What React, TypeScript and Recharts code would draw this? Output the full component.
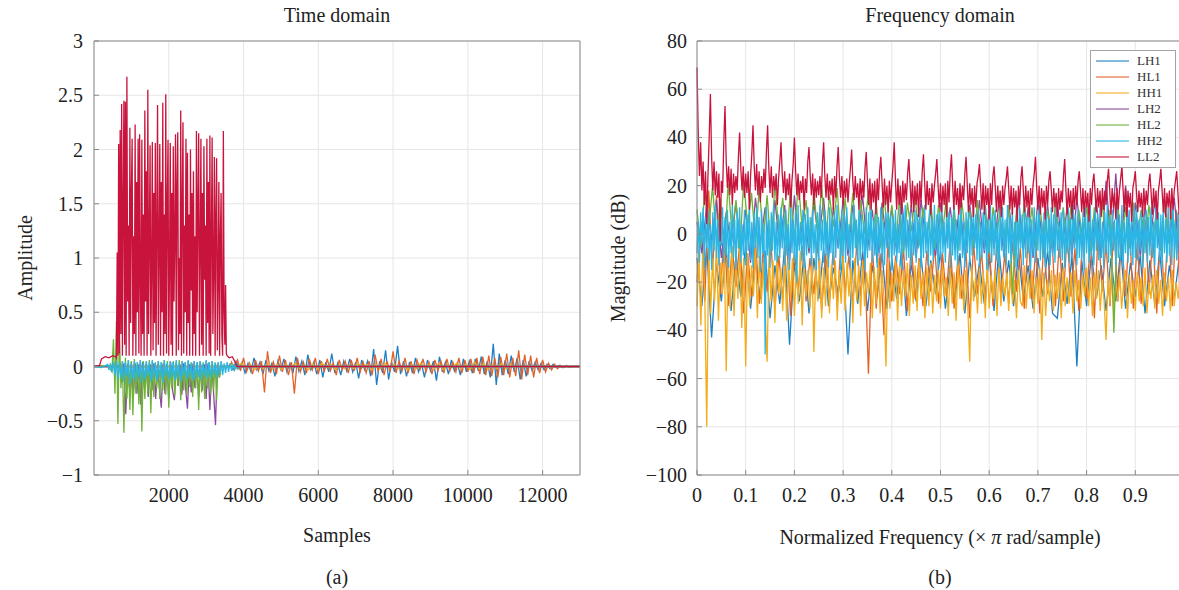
import { LineChart, Line, XAxis, YAxis, CartesianGrid, Legend } from 'recharts';

// series order follows the original plot (last one is drawn on top)
const SERIES = ['LH1', 'HL1', 'HH1', 'LH2', 'HL2', 'HH2', 'LL2'];
const COLORS: Record<string, string> = {
  LH1: '#1f7fc4',
  HL1: '#e2622a',
  HH1: '#f2ac1c',
  LH2: '#8c4a9c',
  HL2: '#6fb23a',
  HH2: '#29b6e6',
  LL2: '#c8143c',
};

const FONT = '"Liberation Serif", "DejaVu Serif", serif';
const GRID = '#e6e6e6';
const AXIS = '#8a8a8a';

// ---------- time domain (samples) ----------
const timeXTicks = [2000, 4000, 6000, 8000, 10000, 12000];
const timeYTicks = [-1, -0.5, 0, 0.5, 1, 1.5, 2, 2.5, 3];

const ll2TimeLead = [[0, 0], [150, 0.01], [200, 0.07], [300, 0.09], [400, 0.08], [500, 0.1], [580, 0.09]];
// step 20 samples from 600
const ll2TimeBurst = [
  0.08, 1.05, 0.1, 2.05, 0.12, 2.18, 0.3, 2.42, 0.1, 1.5,
  2.45, 0.2, 2.44, 0.1, 2.67, 0.6, 1.3, 0.1, 2.2, 0.4,
  1.6, 2.1, 0.1, 1.2, 0.3, 2.23, 0.1, 1.7, 0.5, 2.1,
  0.12, 2.14, 0.8, 0.1, 2.09, 0.3, 1.4, 0.1, 2.36, 0.6,
  1.8, 0.1, 2.55, 0.3, 1.2, 2.04, 0.1, 0.9, 2.07, 0.15,
  1.6, 0.4, 2.06, 0.1, 1.3, 2.41, 0.2, 1.1, 2.05, 0.1,
  1.7, 0.5, 2.43, 0.1, 1.4, 0.3, 2.51, 0.12, 1.5, 2.09,
  0.1, 0.9, 2.06, 0.2, 1.6, 0.1, 2.03, 0.6, 1.2, 2.14,
  0.1, 1.7, 2.16, 0.15, 1.0, 0.3, 2.36, 0.1, 1.5, 2.25,
  0.12, 1.3, 0.5, 2.1, 0.1, 1.97, 0.4, 1.4, 0.1, 2.0,
  0.7, 1.6, 0.1, 1.8, 0.3, 1.2, 0.1, 2.17, 0.5, 1.5,
  2.15, 0.1, 1.1, 2.1, 0.2, 1.6, 0.1, 2.03, 0.8, 1.3,
  0.1, 2.1, 0.4, 1.7, 0.12, 2.13, 0.1, 1.2, 2.11, 0.3,
  0.9, 1.93, 0.1, 1.4, 1.92, 0.15, 0.8, 1.7, 0.1, 1.2,
  1.6, 0.3, 0.1, 2.17, 0.5, 0.2, 0.75, 0.12,
];
const ll2TimeTail = [[3560, 0.1], [3620, 0.08], [3700, 0.09], [3760, 0.05], [3820, 0], [13000, 0]];

const hh2TimeLead = [[0, 0], [200, -0.01], [320, 0.01]];
const hh2TimeBurst = [
  0.02, -0.03, 0.03, -0.05, 0.04, -0.08, 0.05, -0.12, 0.03, -0.1,
  0.05, -0.14, 0.04, -0.09, 0.06, -0.16, 0.03, -0.11, 0.05, -0.13,
  0.04, -0.1, 0.06, -0.15, 0.03, -0.12, 0.05, -0.09, 0.04, -0.14,
  0.06, -0.11, 0.03, -0.13, 0.05, -0.1, 0.04, -0.15, 0.06, -0.09,
  0.03, -0.12, 0.05, -0.1, 0.04, -0.13, 0.06, -0.11, 0.03, -0.14,
  0.05, -0.09, 0.04, -0.12, 0.06, -0.1, 0.03, -0.13, 0.05, -0.11,
  0.04, -0.1, 0.05, -0.12, 0.03, -0.09, 0.06, -0.11, 0.04, -0.1,
  0.05, -0.08, 0.03, -0.1, 0.04, -0.07, 0.05, -0.08, 0.03, -0.06,
  0.04, -0.05, 0.03, -0.04, 0.02, -0.03, 0.02, -0.02, 0.01,
];
const hh2TimeTail = [[3920, 0], [13000, 0]];

const hl2TimeLead = [[0, 0], [400, 0.01], [440, -0.03]];
const hl2TimeBurst = [
  -0.05, 0.25, -0.25, 0.42, -0.53, 0.3, -0.2, 0.05, -0.61, 0.08,
  -0.3, 0.06, -0.4, 0.05, -0.45, 0.07, -0.25, 0.04, -0.35, 0.06,
  -0.6, 0.05, -0.3, 0.04, -0.25, 0.06, -0.43, 0.05, -0.28, 0.04,
  -0.2, 0.05, -0.3, 0.04, -0.22, 0.06, -0.26, 0.05, -0.38, 0.04,
  -0.2, 0.05, -0.27, 0.04, -0.18, 0.06, -0.31, 0.05, -0.22, 0.04,
  -0.25, 0.05, -0.19, 0.04, -0.28, 0.05, -0.2, 0.04, -0.4, 0.05,
  -0.24, 0.04, -0.3, 0.05, -0.2, 0.04, -0.26, 0.05, -0.22, 0.04,
  -0.31, 0.03, -0.1, 0.01,
];
const hl2TimeTail = [[3440, 0], [13000, 0]];

const lh2TimeLead = [[0, 0], [650, 0]];
const lh2TimeBurst = [
  0.02, -0.15, 0.03, -0.44, 0.02, -0.2, 0.04, -0.3, 0.03, -0.25,
  0.02, -0.35, 0.04, -0.2, 0.03, -0.28, 0.02, -0.22, 0.03, -0.3,
  0.02, -0.2, -0.38, 0.03, -0.25, 0.02, -0.3, 0.04, -0.22, -0.31,
  0.03, -0.18, 0.02, -0.26, 0.03, -0.2, -0.39, 0.02, -0.24, 0.03,
  -0.2, 0.02, -0.28, 0.03, -0.22, 0.02, -0.3, 0.03, -0.4, 0.02,
  -0.25, -0.54, 0.02, -0.1,
];
const lh2TimeTail = [[3400, 0], [13000, 0]];

const lh1TimeLead = [[0, 0], [3600, 0]];
const lh1TimeBurst = [
  0.02, -0.03, 0.05, -0.02, 0.04, -0.06, 0.03, -0.05, 0.08, -0.03,
  0.04, -0.07, 0.06, -0.04, 0.03, -0.09, 0.05, -0.03, 0.07, -0.05,
  0.03, -0.06, 0.09, -0.04, 0.05, -0.08, 0.11, -0.03, 0.04, -0.07,
  0.06, -0.1, 0.04, -0.05, 0.12, -0.06, 0.03, -0.08, 0.05, -0.04,
  0.07, -0.05, 0.04, -0.11, 0.06, -0.03, 0.05, -0.09, 0.16, -0.17,
  0.05, -0.06, 0.15, -0.12, 0.04, -0.05, 0.19, -0.07, 0.05, -0.09,
  0.04, -0.06, 0.08, -0.05, 0.03, -0.1, 0.06, -0.04, 0.05, -0.13,
  0.09, -0.05, 0.04, -0.07, 0.06, -0.04, 0.03, -0.08, 0.07, -0.05,
  0.05, -0.06, 0.07, -0.04, 0.09, -0.07, 0.05, -0.1, 0.21, -0.17,
  0.12, -0.08, 0.06, -0.07, 0.1, -0.05, 0.08, -0.12, 0.06, -0.09,
  0.05, -0.04, 0.04, -0.03, 0.03, -0.03, 0.02, -0.02, 0.02, -0.01,
  0.01, -0.01, 0.0,
];
const lh1TimeTail = [[12700, 0], [13000, 0]];

const hl1TimeLead = [[0, 0], [3640, 0]];
const hl1TimeBurst = [
  0.04, -0.03, 0.06, -0.04, 0.08, -0.05, 0.03, -0.07, 0.06, -0.04,
  0.05, -0.24, 0.14, -0.06, 0.04, -0.07, 0.1, -0.05, 0.06, -0.08,
  0.04, -0.25, 0.08, -0.05, 0.04, -0.06, 0.07, -0.03, 0.08, -0.07,
  0.05, -0.05, 0.07, -0.04, 0.03, -0.08, 0.06, -0.03, 0.05, -0.06,
  0.06, -0.04, 0.08, -0.05, 0.04, -0.06, 0.05, -0.08, 0.11, -0.05,
  0.07, -0.08, 0.05, -0.05, 0.14, -0.06, 0.05, -0.04, 0.08, -0.06,
  0.05, -0.07, 0.06, -0.03, 0.07, -0.05, 0.04, -0.07, 0.06, -0.04,
  0.05, -0.06, 0.07, -0.04, 0.04, -0.05, 0.08, -0.06, 0.06, -0.05,
  0.07, -0.06, 0.08, -0.07, 0.09, -0.08, 0.1, -0.09, 0.08, -0.1,
  0.09, -0.08, 0.12, -0.1, 0.08, -0.09, 0.15, -0.12, 0.11, -0.08,
  0.1, -0.1, 0.08, -0.06, 0.06, -0.05, 0.03, -0.03, 0.02, -0.02,
  0.01, -0.01, 0.01, -0.01, 0.0,
];
const hl1TimeTail = [[12900, 0], [13000, 0]];

const hh1TimeLead = [[0, 0], [3600, 0]];
const hh1TimeBurst = [
  0.02, -0.02, 0.03, -0.01, 0.02, -0.03, 0.01, -0.02, 0.03, -0.02,
  0.02, -0.03, 0.02, -0.01, 0.03, -0.02, 0.01, -0.03, 0.02, -0.02,
  0.03, -0.01, 0.02, -0.03, 0.02, -0.02, 0.01, -0.02, 0.03, -0.01,
  0.02, -0.03, 0.02, -0.02, 0.03, -0.01, 0.02, -0.02, 0.01, -0.03,
  0.02, -0.02, 0.03, -0.01, 0.02, -0.02, 0.03, -0.03, 0.02, -0.01,
  0.03, -0.02, 0.02, -0.03, 0.04, -0.02, 0.03, -0.03, 0.02, -0.02,
  0.03, -0.02, 0.02, -0.01, 0.01, -0.01, 0.01, -0.01, 0.0, 0.0,
  0.01, -0.01, 0.0, 0.0, 0.0, 0.0,
];
const hh1TimeTail = [[12800, 0], [13000, 0]];

// ---------- frequency domain (normalized frequency) ----------
const freqXTicks = [0, 0.1, 0.2, 0.3, 0.4, 0.5, 0.6, 0.7, 0.8, 0.9];
const freqYTicks = [-100, -80, -60, -40, -20, 0, 20, 40, 60, 80];

// step 0.0025, one row per ripple period (starting at its peak)
const ll2Freq = [
  69, 42, 24, 38, 18, 30, 12, 26, 4, 24, 40,
  58, 32, 18, 30, 16, 26, 15, 25, -3, 22, 17, 38,
  53, 30, 19, 28, 16, 27, 12, 25, 17, 24, 18, 32,
  42, 27, 18, 28, 15, 25, 17, 26, 10, 24, 33,
  45, 28, 18, 29, 16, 26, 13, 24, 17, 27, 19, 34,
  45, 27, 17, 28, 15, 24, 18, 25, 12, 23, 30,
  38, 25, 17, 26, 14, 23, 16, 25, 11, 22, 29,
  40, 26, 16, 25, 14, 22, 17, 24, 10, 23, 17, 30,
  36, 24, 16, 25, 12, 23, 15, 22, 16, 24, 15, 29,
  38, 24, 15, 25, 14, 22, 16, 23, 10, 24, 15, 28,
  36, 23, 15, 24, 12, 22, 15, 23, 13, 21, 27,
  35, 22, 14, 24, 15, 21, 10, 23, 14, 22, 15, 27,
  34, 22, 12, 23, 10, 21, 13, 22, 8, 23, 14, 26,
  32, 21, 11, 23, 12, 20, 9, 22, 13, 21, 28,
  38, 22, 10, 23, 12, 20, 8, 22, 13, 21, 14, 25,
  31, 21, 11, 22, 9, 20, 12, 21, 7, 22, 13, 26,
  33, 21, 10, 22, 12, 19, 8, 21, 13, 20, 25,
  31, 20, 11, 21, 9, 20, 12, 21, 7, 22, 13, 26,
  33, 20, 10, 22, 12, 19, 8, 21, 11, 20, 14, 25,
  32, 20, 9, 21, 12, 19, 7, 20, 11, 21, 24,
  29, 19, 10, 21, 8, 20, 12, 19, 6, 21, 12, 24,
  28, 19, 9, 20, 11, 18, 7, 20, 12, 19, 23,
  28, 19, 10, 20, 8, 19, 11, 18, 5, 20, 12, 23,
  28, 18, 9, 20, 11, 18, 7, 19, 12, 20, 25,
  32, 19, 10, 20, 8, 19, 11, 18, 6, 20, 12, 22,
  26, 18, 9, 19, 11, 17, 7, 19, 10, 18, 13, 24,
  31, 18, 8, 19, 11, 18, 6, 19, 10, 20, 12, 22,
  26, 18, 9, 19, 7, 18, 11, 17, 5, 19, 12, 21,
  25, 17, 9, 19, 11, 18, 7, 19, 10, 18, 12, 22,
  27, 18, 8, 19, 11, 17, 6, 19, 10, 18, 23,
  28, 18, 9, 19, 7, 18, 11, 17, 5, 19, 22,
  26, 17, 9, 18, 11, 17, 7, 19, 10, 18, 12, 21,
  25, 17, 8, 19, 11, 18, 6, 18, 22,
  27, 18, 9, 19, 7, 17, 11, 18, 6, 19, 10, 18, 22,
  26, 17, 8, 19, 11, 18, 20,
];

// step 0.0025
const hh2Freq = [
  -8, 5, -12, 9, -4, 11, -14, 7, -6, 10,
  -11, 4, -15, 9, -7, 12, -10, 6, -13, 8,
  -5, 11, -12, 7, -9, 10, -14, 5, -8, 12,
  -10, 6, -15, 9, -6, 11, -12, 4, -9, 10,
  -13, 8, -7, 12, -11, 5, -14, 9, -6, 11,
  -10, 7, -16, 10, -8, 4, -50, 11, -9, 6,
  -14, 9, -7, 12, -11, 5, -12, 8, -10, 11,
  -6, 7, -13, 10, -9, 4, -15, 11, -8, 6,
  -12, 9, -20, 12, -7, 5, -11, 10, -14, 8,
  -9, 11, -6, 7, -13, 10, -8, 4, -15, 9,
  -11, 12, -7, 6, -12, 10, -9, 5, -14, 11,
  -8, 7, -13, 9, -10, 12, -6, 5, -15, 10,
  -9, 8, -12, 11, -7, 4, -14, 9, -10, 12,
  -6, 6, -13, 10, -11, 8, -8, 5, -15, 11,
  -10, 9, -7, 12, -12, 6, -9, 10, -14, 7,
  -8, 11, -11, 5, -13, 9, -6, 12, -10, 8,
  -15, 7, -9, 10, -12, 4, -8, 11, -14, 9,
  -7, 12, -11, 6, -10, 9, -13, 5, -9, 10,
  -12, 8, -6, 11, -14, 7, -10, 12, -8, 5,
  -13, 10, -9, 6, -11, 12, -7, 8, -15, 9,
  -10, 11, -8, 5, -12, 10, -6, 9, -14, 7,
  -9, 12, -11, 6, -13, 8, -7, 10, -10, 5,
  -14, 9, -8, 11, -12, 7, -9, 12, -6, 8,
  -11, 10, -13, 5, -10, 9, -7, 11, -15, 6,
  -8, 12, -12, 8, -9, 10, -11, 5, -14, 9,
  -7, 11, -10, 6, -13, 12, -8, 7, -12, 10,
  -9, 5, -14, 9, -11, 11, -6, 8, -13, 12,
  -10, 7, -8, 10, -15, 6, -9, 11, -12, 8,
  -7, 12, -11, 5, -10, 9, -14, 10, -8, 6,
  -13, 11, -9, 8, -12, 12, -7, 5, -10, 9,
  -11, 10, -14, 6, -8, 11, -12, 7, -9, 12,
  -6, 8, -13, 10, -10, 5, -11, 9, -15, 11,
  -8, 7, -12, 12, -9, 6, -13, 10, -7, 8,
  -11, 11, -10, 5, -14, 9, -8, 12, -12, 7,
  -9, 10, -7, 6, -13, 11, -10, 8, -11, 12,
  -14, 5, -8, 9, -12, 10, -9, 7, -13, 11,
  -10, 12, -11, 6, -7, 9, -14, 8, -8, 10,
  -12, 7, -9, 11, -10, 5, -13, 12, -6, 9,
  -11, 8, -14, 10, -8, 6, -12, 11, -9, 7,
  -13, 12, -10, 5, -11, 9, -7, 10, -12, 8,
  -9,
];

// step 0.004
const hh1Freq = [
  -30, -8, -38, -4, -26, -80, -6, -33, -10, -28,
  -3, -36, -12, -25, -7, -57, -9, -31, -5, -34,
  -11, -27, -6, -39, -10, -55, -8, -30, -13, -26,
  -5, -35, -9, -29, -12, -33, -53, -7, -28, -11,
  -37, -8, -25, -14, -32, -9, -36, -12, -27, -10,
  -34, -13, -29, -7, -38, -11, -26, -15, -31, -9,
  -49, -12, -28, -10, -35, -14, -30, -8, -33, -13,
  -27, -11, -36, -15, -29, -9, -32, -12, -26, -14,
  -37, -10, -28, -13, -34, -11, -30, -16, -25, -12,
  -35, -14, -29, -10, -33, -15, -27, -55, -12, -31,
  -16, -28, -11, -36, -13, -30, -15, -26, -12, -34,
  -17, -29, -13, -32, -11, -27, -16, -35, -14, -30,
  -12, -33, -17, -28, -15, -31, -13, -26, -18, -34,
  -14, -29, -16, -36, -12, -27, -17, -32, -15, -30,
  -53, -13, -28, -18, -33, -14, -29, -16, -35, -12,
  -31, -17, -27, -15, -34, -13, -30, -18, -26, -16,
  -32, -14, -29, -19, -35, -15, -28, -30, -13, -31,
  -17, -27, -15, -33, -18, -29, -14, -44, -16, -34,
  -19, -28, -15, -32, -17, -27, -16, -35, -14, -30,
  -18, -29, -16, -33, -15, -28, -19, -31, -17, -26,
  -14, -30, -18, -34, -16, -27, -15, -32, -19, -28,
  -44, -17, -29, -14, -33, -18, -28, -16, -31, -20,
  -15, -35, -17, -29, -19, -32, -16, -28, -18, -30,
  -14, -33, -20, -27, -17, -31, -15, -29, -19, -34,
  -16, -28, -18, -32, -15, -30, -20, -27, -17, -33,
  -19,
];

// step 0.008
const hl1Freq = [
  -20, 5, -28, 18, -15, 16, -25, 2, -30, -5,
  -22, -3, -33, -8, -26, -2, -29, -6, -24, -4,
  -31, -9, -27, -1, -34, -7, -23, -5, -28, -10,
  -25, -3, -32, -8, -27, -6, -30, -2, -24, -9,
  -29, -4, -26, -7, -58, -5, -31, -8, -42, -3,
  -28, -9, -25, -6, -32, -4, -27, -10, -30, -7,
  -24, -5, -29, -8, -26, -3, -31, -9, -27, -6,
  -35, -4, -25, -7, -28, -5, -30, -2, -26, -8,
  -29, -3, -24, -6, -31, -1, -27, -5, -33, -4,
  -25, 2, -30, -3, -28, 0, -26, -6, -32, 1,
  -27, -2, -35, 3, -24, -4, -30, 5, -28, -1,
  -26, 4, -31, -3, -29, 6, -25, 0, -33, 3,
  -27, 8, -30, 10, -26, 15,
];

// step 0.01
const lh1Freq = [
  -10, -30, -5, -43, -12, -28, -6, -32, -9, -26,
  -4, -31, -11, -27, -7, -35, -13, -29, -5, -46,
  -12, -28, -8, -33, -10, -27, -6, -30, -14, -25,
  -9, -50, -11, -29, -7, -32, -13, -26, -8, -31,
  -10, -27, -6, -34, -12, -28, -9, -30, -11, -25,
  -7, -31, -13, -27, -8, -33, -10, -26, -12, -29,
  -9, -32, -6, -28, -11, -30, -8, -27, -13, -31,
  -10, -26, -7, -33, -35, -12, -29, -9, -55, -11,
  -30, -8, -27, -13, -32, -10, -28, -6, -31, -12,
  -26, -9, -33, -11, -29, -7, -30, -13, -27, -10,
  -28,
];

// step 0.008
const hl2Freq = [
  10, -5, 18, 2, 20, -3, 15, -8, 21, 0,
  14, -6, 22, 3, 17, -4, 20, -2, 16, -7,
  21, 1, 15, -5, 19, -3, 22, 2, 14, -6,
  18, -1, 20, -4, 16, 3, 19, -7, 15, -2,
  17, -5, 14, 0, 18, -3, 13, -6, 16, -1,
  12, -4, 15, -8, 13, 1, 16, -5, 11, -3,
  14, -6, 12, 0, 15, -4, 11, -7, 13, -2,
  10, -5, 14, -3, 12, -8, 11, 0, 13, -6,
  12, -25, 10, -4, 13, -2, 11, -7, 12, -3,
  10, -5, 13, -1, 11, -6, 12, -4, 10, -2,
  12, -7, 11, -3, 13, -5, 10, -41, 12, -4,
  11, -6, 13, -2, 10, -5, 12, -3, 11, -7,
  13, -4, 10, -2, 12, -5,
];

// step 0.01
const lh2Freq = [
  5, -8, 12, -3, 14, -10, 9, -5, 13, -7,
  10, -12, 15, -4, 11, -9, 14, -6, 12, -11,
  16, -5, 10, -8, 13, -3, 15, -10, 11, -6,
  14, -9, 12, -4, 16, -7, 10, -12, 13, -5,
  11, -8, 15, -6, 12, -10, 14, -3, 10, -9,
  13, -5, 11, -7, 15, -11, 12, -4, 14, -8,
  10, -6, 13, -9, 12, -3, 15, -7, 11, -10,
  14, -5, 12, -8, 13, -6, 11, -9, 15, -4,
  12, -7, 14, -10, 22, -5, 25, -8, 20, -6,
  13, -9, 11, -5, 14, -7, 12, -4, 15, -8,
  11,
];

type Pt = { x: number; y: number };
const pairs = (p: number[][]): Pt[] => p.map(([x, y]) => ({ x, y }));
const seq = (start: number, step: number, values: number[]): Pt[] =>
  values.map((y, i) => ({ x: +(start + i * step).toFixed(4), y }));

const timeData: Record<string, Pt[]> = {
  LH1: [...pairs(lh1TimeLead), ...seq(3640, 80, lh1TimeBurst), ...pairs(lh1TimeTail)],
  HL1: [...pairs(hl1TimeLead), ...seq(3680, 80, hl1TimeBurst), ...pairs(hl1TimeTail)],
  HH1: [...pairs(hh1TimeLead), ...seq(3700, 120, hh1TimeBurst), ...pairs(hh1TimeTail)],
  LH2: [...pairs(lh2TimeLead), ...seq(700, 50, lh2TimeBurst), ...pairs(lh2TimeTail)],
  HL2: [...pairs(hl2TimeLead), ...seq(480, 40, hl2TimeBurst), ...pairs(hl2TimeTail)],
  HH2: [...pairs(hh2TimeLead), ...seq(360, 40, hh2TimeBurst), ...pairs(hh2TimeTail)],
  LL2: [...pairs(ll2TimeLead), ...seq(600, 20, ll2TimeBurst), ...pairs(ll2TimeTail)],
};

const freqData: Record<string, Pt[]> = {
  LH1: seq(0, 0.01, lh1Freq),
  HL1: seq(0, 0.008, hl1Freq),
  HH1: seq(0, 0.004, hh1Freq),
  LH2: seq(0, 0.01, lh2Freq),
  HL2: seq(0, 0.008, hl2Freq),
  HH2: seq(0, 0.0025, hh2Freq),
  LL2: seq(0, 0.0025, ll2Freq),
};

const minus = (v: number) => String(v).replace('-', '\u2212');
const noTick = () => <g />;

// tick labels drawn as plain svg text so the serif face is certain
const XTick = (props: any) => {
  const { x, y, payload } = props;
  return (
    <text x={x} y={y} dy="0.71em" textAnchor="middle" fontFamily={FONT} fontSize={20} fill="#222">
      {minus(payload.value)}
    </text>
  );
};
const YTick = (props: any) => {
  const { x, y, payload } = props;
  return (
    <text x={x} y={y} dy="0.35em" textAnchor="end" fontFamily={FONT} fontSize={20} fill="#222">
      {minus(payload.value)}
    </text>
  );
};

const renderLegend = () => (
  <div
    style={{
      border: '1px solid #a3a3a3',
      background: '#fff',
      padding: '2px 0',
      width: 84,
      fontFamily: FONT,
      fontSize: 13,
      color: '#333',
    }}
  >
    {SERIES.map((name) => (
      <div key={name} style={{ display: 'flex', alignItems: 'center', height: 16 }}>
        <svg width={46} height={16}>
          <line x1={5} x2={38} y1={8} y2={8} stroke={COLORS[name]} strokeOpacity={0.55} strokeWidth={2} />
        </svg>
        <span>{name}</span>
      </div>
    ))}
  </div>
);

function Panel({
  data,
  xDomain,
  xTicks,
  yDomain,
  yTicks,
  margin,
  yTickMargin,
  legend,
}: {
  data: Record<string, Pt[]>;
  xDomain: [number, number];
  xTicks: number[];
  yDomain: [number, number];
  yTicks: number[];
  margin: { top: number; right: number; bottom: number; left: number };
  yTickMargin: number;
  legend?: boolean;
}) {
  return (
    <LineChart width={600} height={590} margin={margin}>
      <CartesianGrid stroke={GRID} />
      <XAxis
        type="number"
        dataKey="x"
        domain={xDomain}
        ticks={xTicks}
        tick={XTick}
        tickSize={-5}
        tickMargin={18}
        height={30}
        stroke={AXIS}
        interval={0}
      />
      <XAxis
        xAxisId="top"
        orientation="top"
        type="number"
        dataKey="x"
        domain={xDomain}
        ticks={xTicks}
        tick={noTick}
        tickSize={-5}
        height={1}
        stroke={AXIS}
        interval={0}
      />
      <YAxis
        type="number"
        domain={yDomain}
        ticks={yTicks}
        tick={YTick}
        tickSize={-5}
        tickMargin={yTickMargin}
        width={60}
        stroke={AXIS}
        interval={0}
      />
      <YAxis
        yAxisId="right"
        orientation="right"
        type="number"
        domain={yDomain}
        ticks={yTicks}
        tick={noTick}
        tickSize={-5}
        width={1}
        stroke={AXIS}
        interval={0}
      />
      {SERIES.map((name) => (
        <Line
          key={name}
          data={data[name]}
          dataKey="y"
          type="linear"
          stroke={COLORS[name]}
          strokeWidth={1.3}
          dot={false}
          activeDot={false}
          isAnimationActive={false}
        />
      ))}
      {legend && (
        <Legend
          layout="horizontal"
          verticalAlign="middle"
          align="center"
          content={renderLegend}
          wrapperStyle={{ position: 'absolute', left: 490, top: 50, width: 'auto', height: 'auto' }}
        />
      )}
    </LineChart>
  );
}

const label = (x: number, y: number, size: number, rotate = false): React.CSSProperties => ({
  position: 'absolute',
  left: x,
  top: y,
  transform: `translate(-50%, -50%)${rotate ? ' rotate(-90deg)' : ''}`,
  whiteSpace: 'nowrap',
  fontFamily: FONT,
  fontSize: size,
  color: '#222',
});

export default function App() {
  return (
    <div
      style={{
        position: 'absolute',
        left: 0,
        top: 0,
        width: 1179,
        height: 590,
        overflow: 'hidden',
        background: '#fff',
        fontFamily: FONT,
      }}
    >
      <div style={{ position: 'absolute', left: 0, top: 0 }}>
        <Panel
          data={timeData}
          xDomain={[0, 13000]}
          xTicks={timeXTicks}
          yDomain={[-1, 3]}
          yTicks={timeYTicks}
          margin={{ top: 40, right: 19, bottom: 85, left: 34 }}
          yTickMargin={16}
        />
      </div>
      <div style={{ position: 'absolute', left: 600, top: 0 }}>
        <Panel
          data={freqData}
          xDomain={[0, 1]}
          xTicks={freqXTicks}
          yDomain={[-100, 80]}
          yTicks={freqYTicks}
          margin={{ top: 40, right: 15, bottom: 85, left: 37 }}
          yTickMargin={15}
          legend
        />
      </div>

      <div style={label(337, 15, 20)}>Time domain</div>
      <div style={label(940, 15, 20)}>Frequency domain</div>
      <div style={label(25, 258, 20, true)}>Amplitude</div>
      <div style={label(618, 258, 20, true)}>Magnitude (dB)</div>
      <div style={label(337, 535, 20)}>Samples</div>
      <div style={label(940, 537, 20)}>
        Normalized Frequency (× <i>π</i> rad/sample)
      </div>
      <div style={label(337, 577, 20)}>(a)</div>
      <div style={label(940, 577, 20)}>(b)</div>
    </div>
  );
}
